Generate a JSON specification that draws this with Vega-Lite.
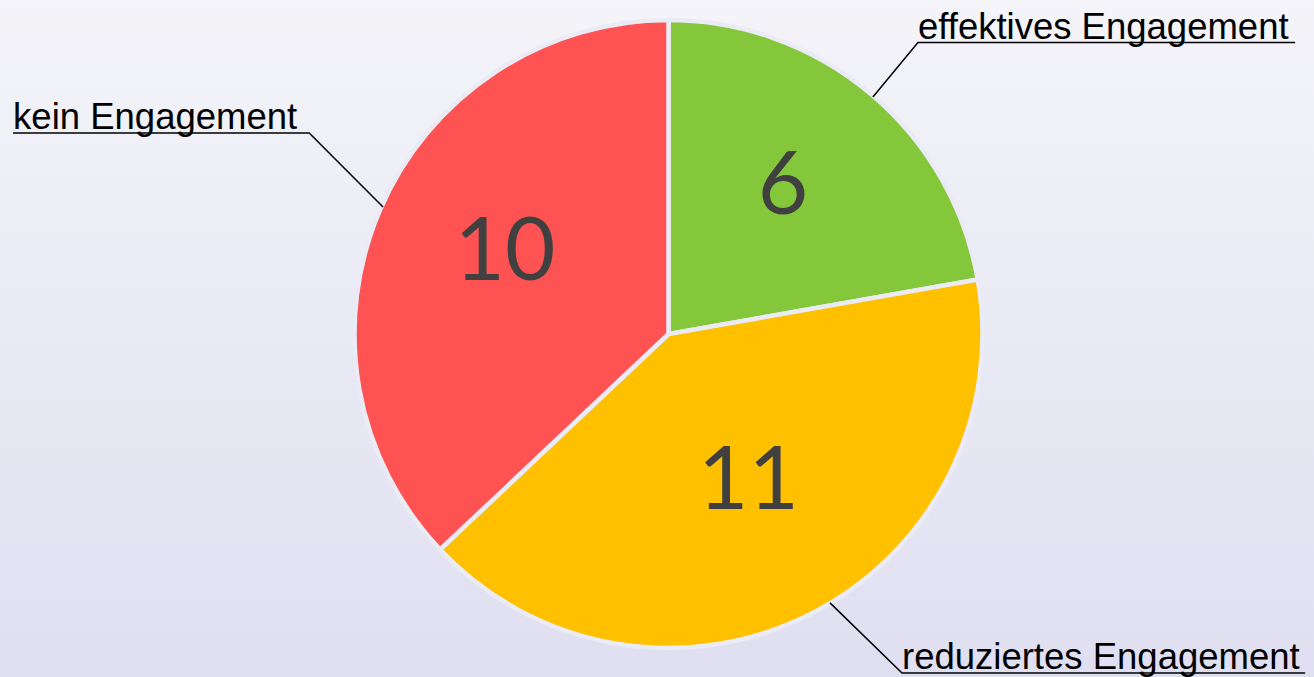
{
  "$schema": "https://vega.github.io/schema/vega-lite/v6.json",
  "width": 1314,
  "height": 677,
  "autosize": {"type": "fit", "contains": "padding"},
  "padding": 0,
  "background": "#eaeaf5",
  "config": {
    "view": {
      "stroke": null,
      "fill": {
        "gradient": "linear", "x1": 0, "y1": 0, "x2": 0, "y2": 1,
        "stops": [
          {"offset": 0, "color": "#f4f4f9"},
          {"offset": 1, "color": "#dfdff1"}
        ]
      }
    }
  },
  "datasets": {
    "segmente": [
      {"nr": 1, "kategorie": "effektives Engagement", "anzahl": 6},
      {"nr": 2, "kategorie": "reduziertes Engagement", "anzahl": 11},
      {"nr": 3, "kategorie": "kein Engagement", "anzahl": 10}
    ],
    "linien": [
      {"kategorie": "effektives Engagement", "punkt": 1, "u": 65.3, "v": 75.7},
      {"kategorie": "effektives Engagement", "punkt": 2, "u": 79.7, "v": 93.1},
      {"kategorie": "effektives Engagement", "punkt": 3, "u": 200.2, "v": 93.1},
      {"kategorie": "kein Engagement", "punkt": 1, "u": -91.2, "v": 40.6},
      {"kategorie": "kein Engagement", "punkt": 2, "u": -114.8, "v": 64.2},
      {"kategorie": "kein Engagement", "punkt": 3, "u": -209.4, "v": 64.2},
      {"kategorie": "reduziertes Engagement", "punkt": 1, "u": 51.6, "v": -85.9},
      {"kategorie": "reduziertes Engagement", "punkt": 2, "u": 74.6, "v": -108.3},
      {"kategorie": "reduziertes Engagement", "punkt": 3, "u": 203.4, "v": -108.3}
    ],
    "beschriftungen": [
      {"kategorie": "effektives Engagement", "u": 79.7, "v": 93.1},
      {"kategorie": "kein Engagement", "u": -209.4, "v": 64.2},
      {"kategorie": "reduziertes Engagement", "u": 74.6, "v": -108.3}
    ]
  },
  "layer": [
    {
      "data": {"name": "segmente"},
      "mark": {"type": "arc", "outerRadius": 314, "stroke": "#ebebf6", "strokeWidth": 4.5},
      "encoding": {
        "theta": {"field": "anzahl", "type": "quantitative", "stack": true},
        "order": {"field": "nr", "type": "quantitative"},
        "color": {
          "field": "kategorie", "type": "nominal", "legend": null,
          "scale": {
            "domain": ["effektives Engagement", "reduziertes Engagement", "kein Engagement"],
            "range": ["#85c73a", "#ffc000", "#ff5252"]
          }
        },
        "x": {"datum": 0, "type": "quantitative", "axis": null, "scale": {"domain": [-213.58, 206.23], "nice": false, "zero": false}},
        "y": {"datum": 0, "type": "quantitative", "axis": null, "scale": {"domain": [-109.58, 106.71], "nice": false, "zero": false}}
      }
    },
    {
      "data": {"name": "segmente"},
      "mark": {"type": "text", "radius": 178, "font": "Lato", "fontSize": 87, "color": "#404040", "dy": -10},
      "encoding": {
        "theta": {"field": "anzahl", "type": "quantitative", "stack": true},
        "order": {"field": "nr", "type": "quantitative"},
        "text": {"field": "anzahl", "type": "quantitative"},
        "x": {"datum": 0, "type": "quantitative", "axis": null, "scale": {"domain": [-213.58, 206.23], "nice": false, "zero": false}},
        "y": {"datum": 0, "type": "quantitative", "axis": null, "scale": {"domain": [-109.58, 106.71], "nice": false, "zero": false}}
      }
    },
    {
      "data": {"name": "linien"},
      "mark": {"type": "line", "color": "#000000", "strokeWidth": 1.5},
      "encoding": {
        "x": {"field": "u", "type": "quantitative", "axis": null, "scale": {"domain": [-213.58, 206.23], "nice": false, "zero": false}},
        "y": {"field": "v", "type": "quantitative", "axis": null, "scale": {"domain": [-109.58, 106.71], "nice": false, "zero": false}},
        "detail": {"field": "kategorie", "type": "nominal"},
        "order": {"field": "punkt", "type": "quantitative"}
      }
    },
    {
      "data": {"name": "beschriftungen"},
      "mark": {"type": "text", "align": "left", "baseline": "alphabetic", "dy": -4, "font": "Liberation Sans", "fontSize": 36.5, "color": "#000000"},
      "encoding": {
        "text": {"field": "kategorie", "type": "nominal"},
        "x": {"field": "u", "type": "quantitative", "axis": null, "scale": {"domain": [-213.58, 206.23], "nice": false, "zero": false}},
        "y": {"field": "v", "type": "quantitative", "axis": null, "scale": {"domain": [-109.58, 106.71], "nice": false, "zero": false}}
      }
    }
  ]
}
